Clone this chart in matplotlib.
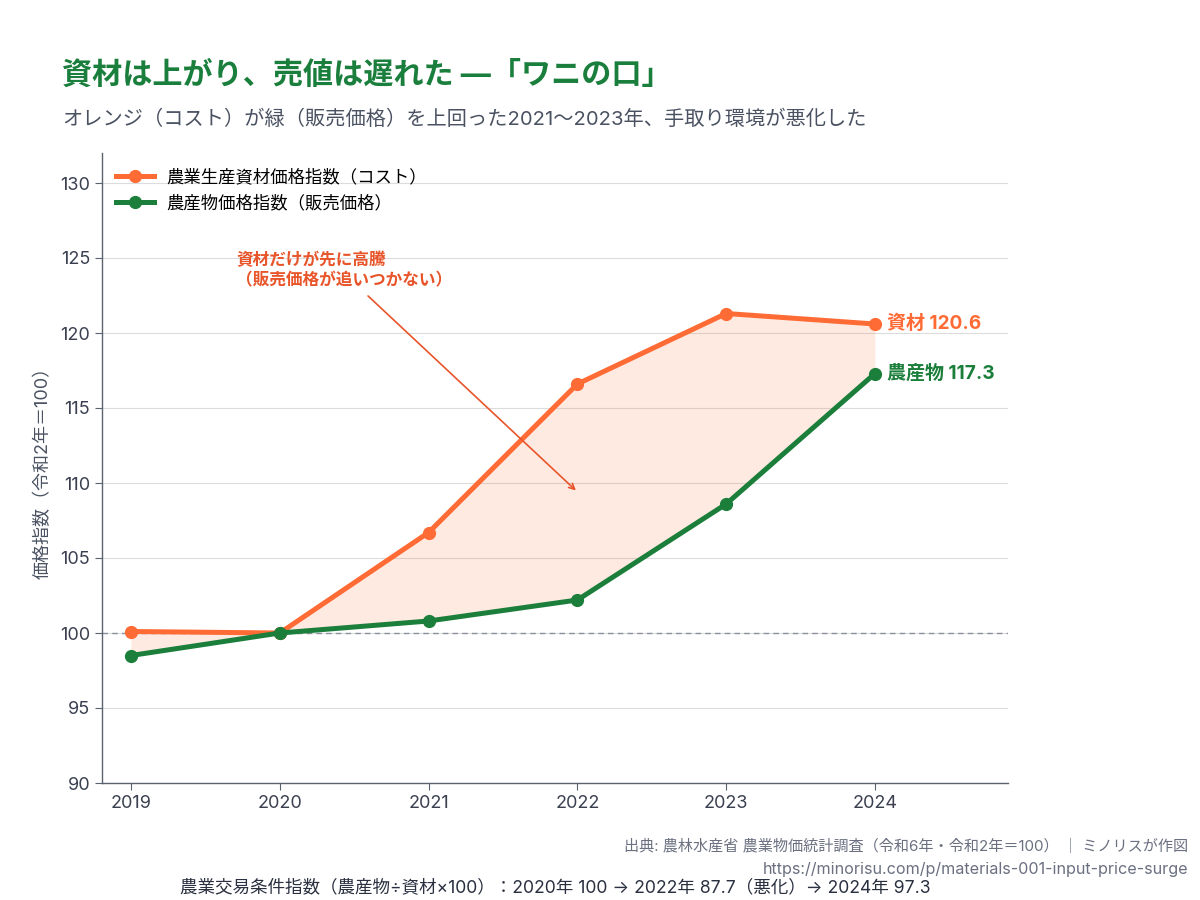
import matplotlib
matplotlib.use("Agg")
import matplotlib.pyplot as plt

plt.rcParams['font.family'] = ['Inter', 'Noto Sans CJK JP', 'DejaVu Sans']

years = [2019, 2020, 2021, 2022, 2023, 2024]
input_index = [100.1, 100.0, 106.7, 116.6, 121.3, 120.6]
farm_index = [98.5, 100.0, 100.8, 102.2, 108.6, 117.3]
yticks = [90, 95, 100, 105, 110, 115, 120, 125, 130]

ORANGE = '#ff6b35'
GREEN = '#1b7f3b'
ANN = '#e8552a'
GRAY = '#4a5262'

fig = plt.figure(figsize=(12, 9), dpi=100)
ax = fig.add_axes([0.085, 0.13, 0.755, 0.70])

ax.fill_between(years, farm_index, input_index, color=ORANGE, alpha=0.14, linewidth=0, zorder=1)
ax.plot(years, input_index, color=ORANGE, lw=3.6, marker='o', ms=8.5, zorder=3,
        label='農業生産資材価格指数（コスト）')
ax.plot(years, farm_index, color=GREEN, lw=3.6, marker='o', ms=8.5, zorder=4,
        label='農産物価格指数（販売価格）')
ax.axhline(100, color='#8a909c', lw=1.0, ls=(0, (4, 3)), zorder=2)

ax.set_xlim(2018.805, 2024.894)
ax.set_ylim(90, 132)
ax.set_yticks(yticks)
ax.set_xticks(years)
ax.grid(axis='y', color='#dcdcdc', lw=0.8, zorder=0)
ax.set_axisbelow(True)
for s in ['top', 'right']:
    ax.spines[s].set_visible(False)
for s in ['left', 'bottom']:
    ax.spines[s].set_color('#5a6270')
    ax.spines[s].set_linewidth(1.0)
ax.tick_params(colors='#5a6270', labelcolor='#3a4050', labelsize=13, length=5)
ax.set_ylabel('価格指数（令和2年＝100）', fontsize=13, color=GRAY, labelpad=6)

leg = ax.legend(loc='upper left', frameon=False, fontsize=12.5, handlelength=2.2,
                handletextpad=0.7, borderaxespad=0.0, bbox_to_anchor=(0.008, 0.985))

ax.text(years[-1] + 0.08, input_index[-1], f'資材 {input_index[-1]}', color=ORANGE,
        fontsize=13.7, fontweight='bold', va='center', ha='left')
ax.text(years[-1] + 0.08, farm_index[-1], f'農産物 {farm_index[-1]}', color=GREEN,
        fontsize=13.7, fontweight='bold', va='center', ha='left')

ax.text(2019.706, 125.4, '資材だけが先に高騰\n（販売価格が追いつかない）',
        color=ANN, fontsize=12, fontweight='bold', ha='left', va='top', linespacing=1.25)
ax.annotate('', xy=(2021.99, 109.5), xytext=(2020.593, 122.47),
            arrowprops=dict(arrowstyle='->', color=ANN, lw=1.2, shrinkA=0, shrinkB=0))

fig.text(0.052, 0.917, '資材は上がり、売値は遅れた ―「ワニの口」', color='#1a7f3c',
         fontsize=21.7, fontweight='bold', va='center', ha='left')
fig.text(0.052, 0.868, 'オレンジ（コスト）が緑（販売価格）を上回った2021〜2023年、手取り環境が悪化した',
         color=GRAY, fontsize=14.55, va='center', ha='left')

fig.text(0.99, 0.059, '出典: 農林水産省 農業物価統計調査（令和6年・令和2年＝100） ｜ ミノリスが作図',
         color='#6a7080', fontsize=10.9, ha='right', va='center')
fig.text(0.99, 0.034, 'https://minorisu.com/p/materials-001-input-price-surge',
         color='#6a7080', fontsize=11.6, ha='right', va='center')
fig.text(0.4625, 0.014, '農業交易条件指数（農産物÷資材×100）：2020年 100 → 2022年 87.7（悪化）→ 2024年 97.3',
         color='#2a3040', fontsize=12.65, ha='center', va='center')

fig.savefig('out.png', dpi=100)
